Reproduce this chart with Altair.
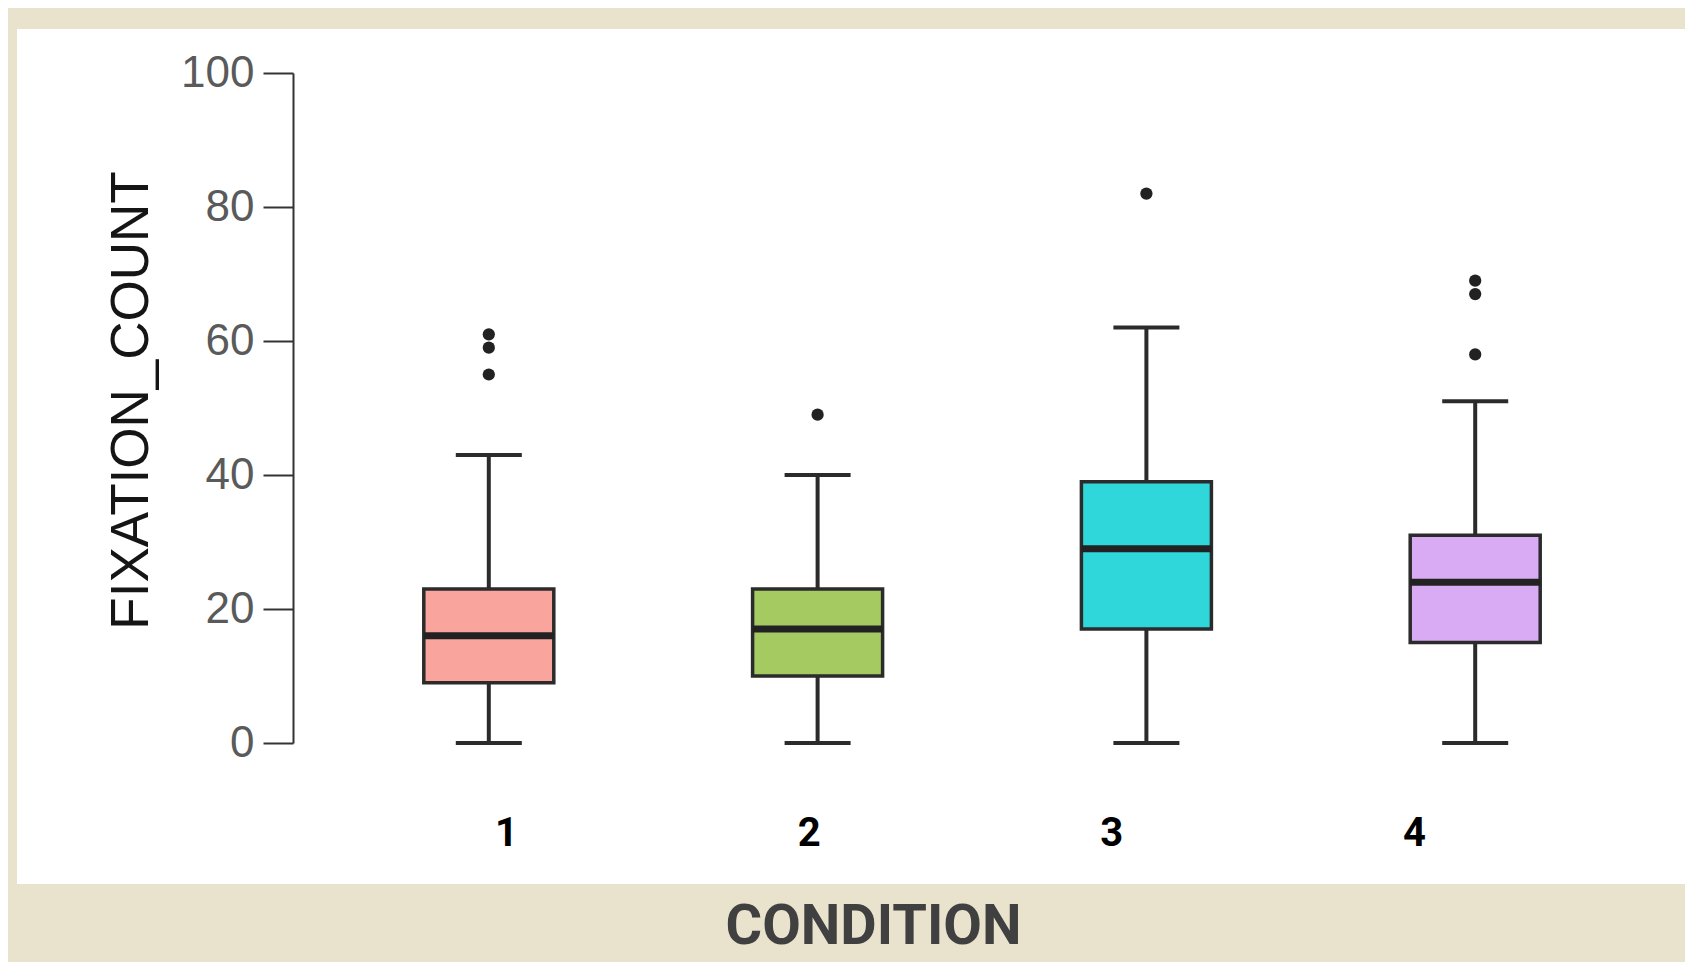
import altair as alt
import pandas as pd

# ---- data ----
conditions = ["1", "2", "3", "4"]
q1_vals = [9, 10, 17, 15]
median_vals = [16, 17, 29, 24]
q3_vals = [23, 23, 39, 31]
lower_vals = [0, 0, 0, 0]
upper_vals = [43, 40, 62, 51]
outlier_cond = ["1", "1", "1", "2", "3", "4", "4", "4"]
outlier_vals = [55, 59, 61, 49, 82, 58, 67, 69]
box_colors = ["#F9A59E", "#A6CA62", "#2FD7DB", "#D9ABF5"]
y_ticks = [0, 20, 40, 60, 80, 100]

summary = pd.DataFrame({
    "condition": conditions,
    "q1": q1_vals,
    "median": median_vals,
    "q3": q3_vals,
    "lower": lower_vals,
    "upper": upper_vals,
})
outliers = pd.DataFrame({"condition": outlier_cond, "value": outlier_vals})

W, H = 1378, 670
INK = "#2b2b2b"

xband = alt.X(
    "condition:N",
    scale=alt.Scale(type="band", domain=conditions, paddingInner=0.593, paddingOuter=0.392),
    axis=None,
)
yscale = alt.Scale(domain=[0, 100], nice=False, zero=True)
yaxis = alt.Axis(
    values=y_ticks,
    grid=False,
    tickSize=30,
    tickWidth=2,
    tickColor="#333333",
    domainColor="#333333",
    domainWidth=2,
    labelFont="Liberation Sans",
    labelFontSize=44,
    labelColor="#5a5a5a",
    labelPadding=9,
    title="FIXATION_COUNT",
    titleFont="Liberation Sans",
    titleFontSize=53,
    titleFontWeight="normal",
    titleColor="#151515",
    titlePadding=22,
    titleY=327,
    zindex=1,
)

def Y(field):
    return alt.Y(f"{field}:Q", scale=yscale, axis=yaxis)

colour = alt.Color(
    "condition:N",
    scale=alt.Scale(domain=conditions, range=box_colors),
    legend=None,
)

panel = alt.Chart(alt.Data(values=[{"p": 1}])).mark_rect(color="white").encode(
    x=alt.value(-276), x2=alt.value(1500), y=alt.value(-44), y2=alt.value(811)
)

base = alt.Chart(summary)

whisk_up = base.mark_rule(color=INK, strokeWidth=4, opacity=1).encode(x=xband, y=Y("q3"), y2="upper:Q")
whisk_lo = base.mark_rule(color=INK, strokeWidth=4, opacity=1).encode(x=xband, y=Y("lower"), y2="q1:Q")
cap_up = base.mark_tick(color=INK, size=66, thickness=4, opacity=1).encode(x=xband, y=Y("upper"))
cap_lo = base.mark_tick(color=INK, size=66, thickness=4, opacity=1).encode(x=xband, y=Y("lower"))
box = base.mark_bar(size=130, stroke=INK, strokeWidth=3.5, opacity=1).encode(
    x=xband, y=Y("q1"), y2="q3:Q", color=colour
)
med = base.mark_tick(color="#222222", size=130, thickness=7, opacity=1).encode(x=xband, y=Y("median"))
pts = alt.Chart(outliers).mark_circle(color="#222222", size=150, opacity=1).encode(
    x=xband, y=Y("value")
)

boxes = alt.layer(whisk_up, whisk_lo, cap_up, cap_lo, box, med, pts)

labels = alt.Chart(summary).mark_point(opacity=0).encode(
    x=alt.X(
        "condition:N",
        scale=alt.Scale(type="point", domain=conditions, range=[213, 1121], padding=0),
        axis=alt.Axis(
            orient="bottom",
            domain=False,
            ticks=False,
            labelAngle=0,
            labelFont="Roboto",
            labelFontWeight="bold",
            labelFontSize=40,
            labelColor="#000000",
            labelPadding=70,
            title="CONDITION",
            titleFont="Roboto",
            titleFontWeight="bold",
            titleFontSize=56,
            titleColor="#404040",
            titleX=580,
            titleY=200,
            titleBaseline="alphabetic",
            zindex=1,
        ),
    )
)

chart = (
    alt.layer(panel, boxes, labels)
    .resolve_scale(x="independent")
    .properties(
        width=W,
        height=H,
        autosize=alt.AutoSizeParams(type="none"),
        padding={"left": 285, "top": 65, "right": 14, "bottom": 219},
    )
    .configure(background="#E9E3CD")
    .configure_view(stroke=None)
)

chart.save("out.html", embed_options={"renderer": "svg", "actions": False})
